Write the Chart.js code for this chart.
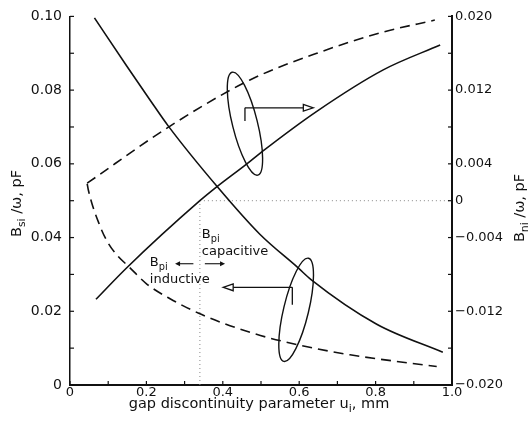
<!DOCTYPE html>
<html>
<head>
<meta charset="utf-8">
<script src="https://cdn.jsdelivr.net/npm/chart.js@4"></script>
<style>
body{margin:0;background:#fff}
#grafico{display:block}
</style>
</head>
<body>
<canvas id="grafico" width="528" height="427"></canvas>
<script>
// gap discontinuity parameter u (mm) and susceptances
const uBsSolid=[0.064,0.148,0.209,0.257,0.388,0.497,0.598,0.631,0.803,0.976]
const bsSolid=[0.0996,0.0866,0.0774,0.0703,0.0535,0.0409,0.0317,0.0286,0.0165,0.0089]

const uBsDashed=[0.045,0.048,0.079,0.100,0.125,0.153,0.201,0.262,0.345,0.480,0.593,0.733,0.960]
const bsDashed=[0.0546,0.0529,0.0430,0.0385,0.0350,0.0322,0.0274,0.0234,0.0191,0.0140,0.0110,0.0082,0.0050]

const uBnSolid=[0.068,0.148,0.340,0.384,0.463,0.502,0.646,0.820,0.969]
const bnSolid=[-0.0107,-0.0073,0,0.0015,0.0040,0.0053,0.0097,0.0142,0.0169]

const uBnDashed=[0.045,0.262,0.471,0.646,0.820,0.955]
const bnDashed=[0.0019,0.0081,0.0131,0.0160,0.0183,0.0196]

const uCross=0.34

const xLabels=["0","0.2","0.4","0.6","0.8","1.0"]
const leftLabels=["0","0.02","0.04","0.06","0.08","0.10"]
const rightLabels=["-0.020","-0.012","-0.004","0","0.004","0.012","0.020"]

const ink="#111"
const font="DejaVu Sans"

function pts(us,vs){
return us.map((u,i)=>({x:u,y:vs[i]}))
}

function pickLabel(labels){
return v=>{
let lab=labels.find(l=>Math.abs(parseFloat(l)-v)<1e-9)
return lab===undefined?"":lab.replace("-","\u2212")
}
}

// text with subscripts: parts = [[text, isSub], ...]
function richWidth(ctx,parts,size){
let w=0
parts.forEach(p=>{
ctx.font=(p[1]?size*0.75:size)+"px "+font
w+=ctx.measureText(p[0]).width
})
return w
}

function richText(ctx,parts,x,y,size,center){
if(center) x-=richWidth(ctx,parts,size)/2
parts.forEach(p=>{
ctx.font=(p[1]?size*0.75:size)+"px "+font
ctx.fillText(p[0],x,p[1]?y+size*0.3:y)
x+=ctx.measureText(p[0]).width
})
}

function seg(ctx,x1,y1,x2,y2){
ctx.beginPath()
ctx.moveTo(x1,y1)
ctx.lineTo(x2,y2)
ctx.stroke()
}

function head(ctx,tx,ty,dir,len,half,open){
ctx.beginPath()
ctx.moveTo(tx,ty)
ctx.lineTo(tx-dir*len,ty-half)
ctx.lineTo(tx-dir*len,ty+half)
ctx.closePath()
if(open){
ctx.fillStyle="#fff"
ctx.fill()
ctx.stroke()
ctx.fillStyle=ink
}else{
ctx.fill()
}
}

const extras={
id:"extras",
afterDraw(chart){
const {ctx,scales:{x,y,y2}}=chart
const px=u=>x.getPixelForValue(u)
const py=v=>y.getPixelForValue(v)

ctx.save()
ctx.strokeStyle=ink
ctx.fillStyle=ink
ctx.lineWidth=1.2

// inward tick marks
x.ticks.forEach(t=>seg(ctx,px(t.value),x.top,px(t.value),x.top-4))
y.ticks.forEach(t=>seg(ctx,y.right,py(t.value),y.right+4,py(t.value)))
y2.ticks.forEach(t=>{
let p=y2.getPixelForValue(t.value)
seg(ctx,y2.left,p,y2.left-4,p)
})

// loops and pointer arrows
ctx.lineWidth=1.4
ctx.beginPath()
ctx.ellipse(px(0.458),py(0.0709),12.5,53,-14*Math.PI/180,0,2*Math.PI)
ctx.stroke()
ctx.beginPath()
ctx.ellipse(px(0.592),py(0.0204),12.5,53,13.5*Math.PI/180,0,2*Math.PI)
ctx.stroke()

ctx.lineWidth=1.3
seg(ctx,px(0.458),py(0.0716),px(0.458),py(0.0752))
seg(ctx,px(0.458),py(0.0752),px(0.637)-10,py(0.0752))
head(ctx,px(0.637),py(0.0752),1,10,3.4,true)

seg(ctx,px(0.582),py(0.0218),px(0.582),py(0.0265))
seg(ctx,px(0.582),py(0.0265),px(0.401)+10,py(0.0265))
head(ctx,px(0.401),py(0.0265),-1,10,3.4,true)

// small arrows between the labels
ctx.lineWidth=1.1
seg(ctx,px(0.323),py(0.0329),px(0.275)+4,py(0.0329))
head(ctx,px(0.275),py(0.0329),-1,5,2.6,false)
seg(ctx,px(0.353),py(0.0329),px(0.406)-4,py(0.0329))
head(ctx,px(0.406),py(0.0329),1,5,2.6,false)

ctx.textAlign="left"
ctx.textBaseline="alphabetic"
richText(ctx,[["B",0],["pi",1]],px(0.345),py(0.0399),13,false)
richText(ctx,[["capacitive",0]],px(0.345),py(0.0353),13,false)
richText(ctx,[["B",0],["pi",1]],px(0.209),py(0.0323),13,false)
richText(ctx,[["inductive",0]],px(0.209),py(0.0278),13,false)

// axis titles
richText(ctx,[["gap discontinuity parameter u",0],["i",1],[", mm",0]],259,408,14.5,true)

ctx.save()
ctx.translate(20.5,203.5)
ctx.rotate(-Math.PI/2)
richText(ctx,[["B",0],["si",1],[" /\u03c9, pF",0]],0,0,14.5,true)
ctx.restore()

ctx.save()
ctx.translate(523.5,208)
ctx.rotate(-Math.PI/2)
richText(ctx,[["B",0],["ni",1],[" /\u03c9, pF",0]],0,0,14.5,true)
ctx.restore()

ctx.restore()
}
}

const curve={borderColor:ink,borderWidth:1.6,pointRadius:0,cubicInterpolationMode:"monotone",fill:false}
const dots={borderColor:"#888",borderWidth:1,borderDash:[1,3],pointRadius:0,tension:0,fill:false,yAxisID:"y2"}

new Chart(document.getElementById("grafico"),{
type:"line",
data:{
datasets:[
{...curve,data:pts(uBsSolid,bsSolid),yAxisID:"y"},
{...curve,data:pts(uBsDashed,bsDashed),yAxisID:"y",borderDash:[10,6]},
{...curve,data:pts(uBnSolid,bnSolid),yAxisID:"y2"},
{...curve,data:pts(uBnDashed,bnDashed),yAxisID:"y2",borderDash:[10,6]},
{...dots,data:[{x:uCross,y:0},{x:1,y:0}]},
{...dots,data:[{x:uCross,y:-0.02},{x:uCross,y:0}]}
]
},
options:{
responsive:false,
animation:false,
layout:{padding:{top:13,left:0,right:0,bottom:0}},
plugins:{legend:{display:false},tooltip:{enabled:false}},
scales:{
x:{
type:"linear",
min:0,max:1,
afterFit:s=>{s.height=42},
grid:{display:false,drawTicks:false},
border:{display:true,color:ink,width:2},
ticks:{stepSize:0.1,autoSkip:false,maxRotation:0,padding:0,color:ink,font:{family:font,size:13},callback:pickLabel(xLabels)}
},
y:{
position:"left",
min:0,max:0.1,
afterFit:s=>{s.width=70},
grid:{display:false,drawTicks:false},
border:{display:true,color:ink,width:1.5},
ticks:{stepSize:0.01,autoSkip:false,padding:8,color:ink,font:{family:font,size:14},callback:pickLabel(leftLabels)}
},
y2:{
position:"right",
min:-0.02,max:0.02,
afterFit:s=>{s.width=76},
grid:{display:false,drawTicks:false},
border:{display:true,color:ink,width:2},
ticks:{stepSize:0.004,autoSkip:false,padding:3,color:ink,font:{family:font,size:13},callback:pickLabel(rightLabels)}
}
}
},
plugins:[extras]
})
</script>
</body>
</html>
